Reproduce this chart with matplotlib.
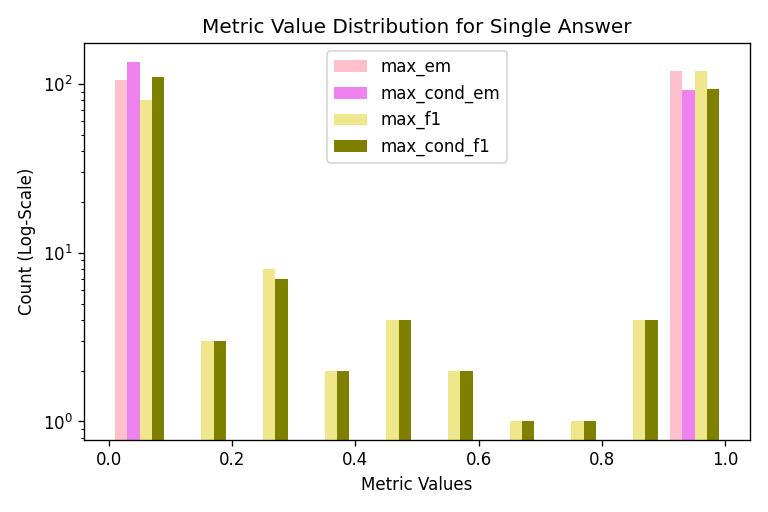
import matplotlib
matplotlib.use("Agg")
import matplotlib.pyplot as plt
import numpy as np

bin_edges = np.linspace(0, 1, 11)
series_names = ["max_em", "max_cond_em", "max_f1", "max_cond_f1"]
colors = ["pink", "violet", "khaki", "olive"]
max_em = [105, 0, 0, 0, 0, 0, 0, 0, 0, 120]
max_cond_em = [135, 0, 0, 0, 0, 0, 0, 0, 0, 92]
max_f1 = [80, 3, 8, 2, 4, 2, 1, 1, 4, 120]
max_cond_f1 = [110, 3, 7, 2, 4, 2, 1, 1, 4, 93]
counts = [max_em, max_cond_em, max_f1, max_cond_f1]

fig, ax = plt.subplots(figsize=(6.4, 512 / 120), dpi=120)
bw = 0.1 * 0.8 / 4
for i, (name, c, vals) in enumerate(zip(series_names, colors, counts)):
    lefts = bin_edges[:-1] + 0.01 + i * bw
    v = np.array(vals, dtype=float)
    m = v > 0
    ax.bar(lefts[m], v[m], width=bw, align="edge", color=c, label=name)
ax.set_yscale("log")
ax.set_ylim(0.78, 175)
ax.set_xlim(-0.04, 1.04)
ax.set_title("Metric Value Distribution for Single Answer")
ax.set_xlabel("Metric Values")
ax.set_ylabel("Count (Log-Scale)")
ax.legend(loc="upper center")
fig.tight_layout()
fig.savefig("out.png", dpi=120)
